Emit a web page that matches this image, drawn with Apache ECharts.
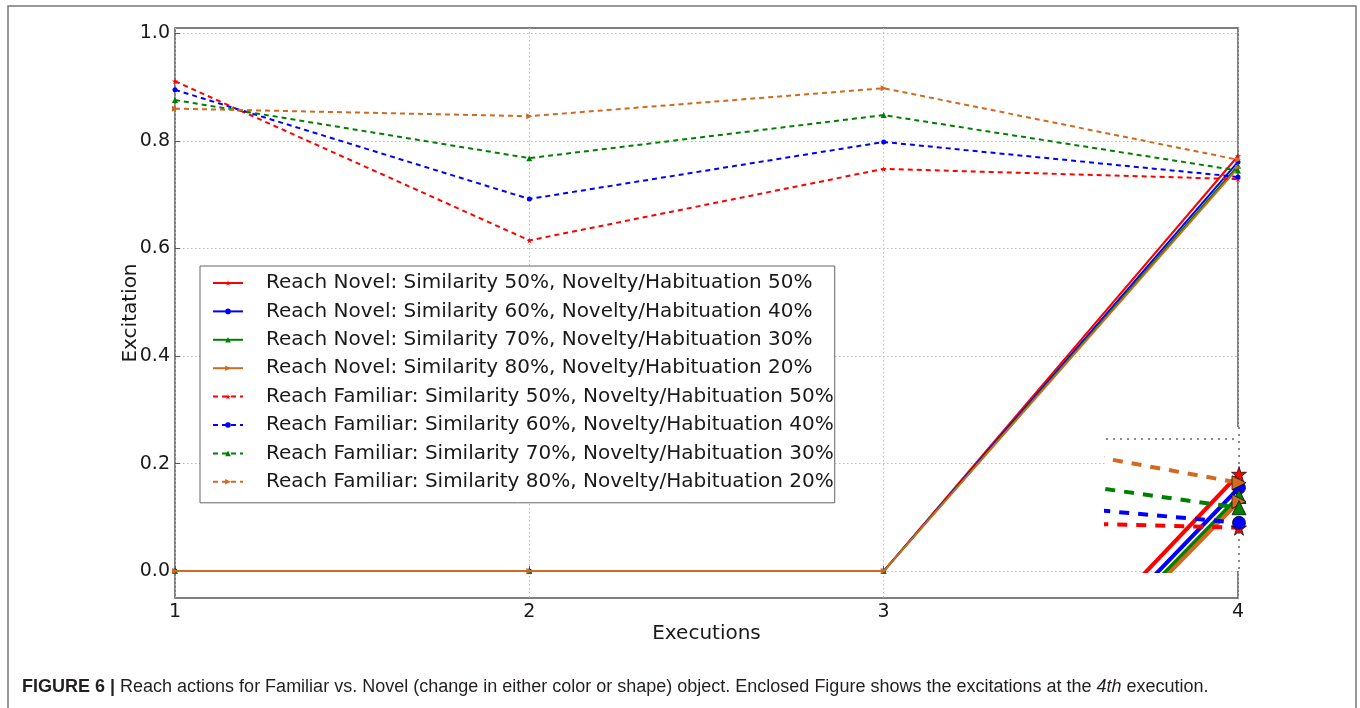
<!DOCTYPE html>
<html>
<head>
<meta charset="utf-8">
<title>Reach actions: Familiar vs. Novel</title>
<script src="https://cdn.jsdelivr.net/npm/echarts@6/dist/echarts.min.js"></script>
<style>
  html, body { margin: 0; padding: 0; background: #fff; }
  #chart { width: 1360px; height: 708px; }
</style>
</head>
<body>
<div id="chart"></div>
<script>
// Executions on the x axis
const executions = [1, 2, 3, 4];

// Reach Novel (solid lines)
const novel50 = [0, 0, 0, 0.772];
const novel60 = [0, 0, 0, 0.761];
const novel70 = [0, 0, 0, 0.754];
const novel80 = [0, 0, 0, 0.750];

// Reach Familiar (dashed lines)
const familiar50 = [0.911, 0.615, 0.748, 0.729];
const familiar60 = [0.895, 0.692, 0.798, 0.733];
const familiar70 = [0.876, 0.768, 0.848, 0.745];
const familiar80 = [0.860, 0.846, 0.898, 0.765];

// Tick labels
const yTicks = [0, 0.2, 0.4, 0.6, 0.8, 1.0];
const xTicks = [1, 2, 3, 4];
// Gridlines shown inside the enclosed close-up of the 4th execution
const insetXTicks = [4];
const insetYTicks = [0.8];

const names = [
  'Reach Novel: Similarity 50%, Novelty/Habituation 50%',
  'Reach Novel: Similarity 60%, Novelty/Habituation 40%',
  'Reach Novel: Similarity 70%, Novelty/Habituation 30%',
  'Reach Novel: Similarity 80%, Novelty/Habituation 20%',
  'Reach Familiar: Similarity 50%, Novelty/Habituation 50%',
  'Reach Familiar: Similarity 60%, Novelty/Habituation 40%',
  'Reach Familiar: Similarity 70%, Novelty/Habituation 30%',
  'Reach Familiar: Similarity 80%, Novelty/Habituation 20%'
];
const values = [novel50, novel60, novel70, novel80, familiar50, familiar60, familiar70, familiar80];

const RED = '#ff0000', BLUE = '#0000ff', GREEN = '#008000', ORANGE = '#d2691e';
const colors = [RED, BLUE, GREEN, ORANGE, RED, BLUE, GREEN, ORANGE];
const STAR = 'path://M50,0 L61,35 L98,35 L68,57 L79,91 L50,70 L21,91 L32,57 L2,35 L39,35 Z';
const TRI_RIGHT = 'path://M0,0 L10,5 L0,10 Z';
const symbols = [STAR, 'circle', 'triangle', TRI_RIGHT, STAR, 'circle', 'triangle', TRI_RIGHT];

const FONT = 'DejaVu Sans';

function pairs(arr) {
  return executions.map((x, i) => [x, arr[i]]);
}

const series = [];
// Main plot
values.forEach((arr, i) => {
  const dashed = i >= 4;
  series.push({
    name: names[i],
    type: 'line',
    xAxisIndex: 0,
    yAxisIndex: 0,
    data: pairs(arr),
    symbol: symbols[i],
    symbolSize: symbols[i] === 'circle' ? 5 : 6,
    showSymbol: true,
    itemStyle: { color: colors[i] },
    lineStyle: { color: colors[i], width: 2, type: dashed ? [5, 4] : 'solid' },
    z: 2 + i * 0.01,
    animation: false
  });
});
// Enclosed close-up at the 4th execution
values.forEach((arr, i) => {
  const dashed = i >= 4;
  series.push({
    name: names[i] + ' (4th execution)',
    type: 'line',
    xAxisIndex: 1,
    yAxisIndex: 1,
    data: pairs(arr),
    clip: true,
    symbol: symbols[i],
    symbolSize: symbols[i] === STAR ? 15 : (symbols[i] === 'circle' ? 13 : 14),
    showSymbol: true,
    itemStyle: { color: colors[i], borderColor: '#111', borderWidth: 0.8 },
    lineStyle: { color: colors[i], width: 4, type: dashed ? [10, 9] : 'solid' },
    z: 8 + i * 0.01,
    animation: false
  });
});

const option = {
  backgroundColor: '#fff',
  animation: false,
  textStyle: { fontFamily: FONT },
  title: {
    left: 17,
    top: 673,
    text: '{b|FIGURE 6 |} Reach actions for Familiar vs. Novel (change in either color or shape) object. Enclosed Figure shows the excitations at the {i|4th} execution.',
    textStyle: {
      fontFamily: 'Liberation Sans',
      fontSize: 18,
      fontWeight: 'normal',
      color: '#231f20',
      rich: {
        b: { fontFamily: 'Liberation Sans', fontSize: 18, fontWeight: 'bold', color: '#231f20' },
        i: { fontFamily: 'Liberation Sans', fontSize: 18, fontStyle: 'italic', color: '#231f20' }
      }
    }
  },
  graphic: [{
    type: 'rect',
    shape: { x: 8, y: 6, width: 1348, height: 720 },
    style: { fill: 'none', stroke: '#777', lineWidth: 1.5 },
    silent: true,
    z: 0
  }],
  legend: {
    data: names,
    orient: 'vertical',
    left: 200,
    top: 266,
    padding: [6, 1, 10, 12],
    itemWidth: 30,
    itemHeight: 7,
    itemGap: 6.4,
    backgroundColor: '#fff',
    borderColor: '#666',
    borderWidth: 1,
    borderRadius: 0,
    selectedMode: false,
    textStyle: { fontFamily: FONT, fontSize: 20, color: '#1a1a1a', lineHeight: 22, padding: [0, 0, 0, 18] },
    z: 6
  },
  grid: [
    {
      left: 175, right: 122, top: 28, height: 570,
      show: true, borderColor: '#555', borderWidth: 1.5, backgroundColor: 'transparent',
      containLabel: false
    },
    {
      left: 1106, top: 427, width: 133, height: 144,
      show: true, borderWidth: 0, backgroundColor: '#fff',
      z: 5
    }
  ],
  xAxis: [
    {
      type: 'value', gridIndex: 0, min: 1, max: 4, interval: 1,
      name: 'Executions', nameLocation: 'middle', nameGap: 26, nameMoveOverlap: false,
      nameTextStyle: { fontFamily: FONT, fontSize: 20, color: '#1a1a1a' },
      axisLine: { show: false },
      axisTick: { show: true, inside: true, length: 5, lineStyle: { color: '#555' }, customValues: xTicks },
      axisLabel: { fontFamily: FONT, fontSize: 19, color: '#1a1a1a', margin: 5, customValues: xTicks },
      splitLine: { show: true, lineStyle: { color: '#bbb', type: [1.5, 2.5], width: 1 } }
    },
    {
      type: 'value', gridIndex: 1, min: 3.855, max: 4.0,
      axisLine: { show: false },
      axisTick: { show: false, customValues: insetXTicks },
      axisLabel: { show: false, customValues: insetXTicks },
      splitLine: { show: true, lineStyle: { color: '#666', type: [2, 5], width: 1.5 } },
      z: 6
    }
  ],
  yAxis: [
    {
      type: 'value', gridIndex: 0, min: -0.05, max: 1.01,
      name: 'Excitation', nameLocation: 'middle', nameGap: 34, nameRotate: 90, nameMoveOverlap: false,
      nameTextStyle: { fontFamily: FONT, fontSize: 20, color: '#1a1a1a' },
      axisLine: { show: false },
      axisTick: { show: true, inside: true, length: 5, lineStyle: { color: '#555' }, customValues: yTicks },
      axisLabel: {
        fontFamily: FONT, fontSize: 19, color: '#1a1a1a', margin: 5, customValues: yTicks,
        formatter: v => v.toFixed(1)
      },
      splitLine: { show: true, lineStyle: { color: '#bbb', type: [1.5, 2.5], width: 1 } }
    },
    {
      type: 'value', gridIndex: 1, min: 0.6944, max: 0.8096,
      axisLine: { show: false },
      axisTick: { show: false, customValues: insetYTicks },
      axisLabel: { show: false, customValues: insetYTicks },
      splitLine: { show: true, lineStyle: { color: '#666', type: [2, 5], width: 1.5 } },
      z: 6
    }
  ],
  series: series
};

const chart = echarts.init(document.getElementById('chart'), null, { renderer: 'canvas' });
chart.setOption(option);
</script>
</body>
</html>
